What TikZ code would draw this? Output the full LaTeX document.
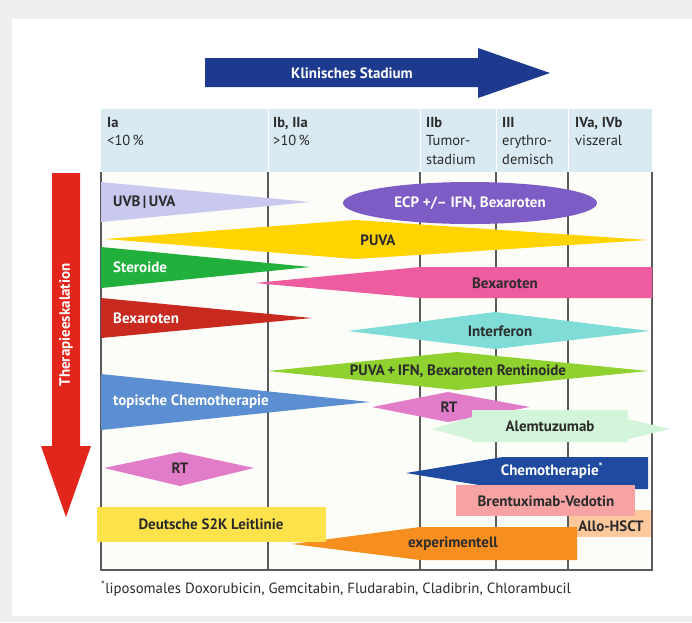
\documentclass[tikz,border=0pt]{standalone}
\usepackage{fontspec}
\setmainfont{PT Sans}

\definecolor{outerbg}{HTML}{EFEFEF}
\definecolor{chartbg}{HTML}{FCFCF8}
\definecolor{hdrbg}{HTML}{D9EAF3}
\definecolor{gridc}{HTML}{5A5A5A}
\definecolor{txt}{HTML}{2B2B2B}
\definecolor{navyarr}{HTML}{1D3A8F}
\definecolor{redarr}{HTML}{E2261C}
\definecolor{uvbc}{HTML}{C9C8EF}
\definecolor{puvac}{HTML}{FFD400}
\definecolor{ecpc}{HTML}{7E5CC6}
\definecolor{sterc}{HTML}{22B03C}
\definecolor{bexpc}{HTML}{EE5CA0}
\definecolor{bexrc}{HTML}{C82A20}
\definecolor{ifnc}{HTML}{80DCD6}
\definecolor{puvaifnc}{HTML}{8FD12E}
\definecolor{topcc}{HTML}{5B8FD2}
\definecolor{rtc}{HTML}{E07CC8}
\definecolor{alemc}{HTML}{D2F4D8}
\definecolor{chemoc}{HTML}{1F4AA0}
\definecolor{brentc}{HTML}{F7A3A3}
\definecolor{alloc}{HTML}{FDC99C}
\definecolor{experc}{HTML}{F68F1F}
\definecolor{s2kc}{HTML}{FDE24B}

\begin{document}
\begin{tikzpicture}[x=1pt,y=-1pt,
  lbl/.style={font=\bfseries\fontsize{15}{17}\selectfont,text=txt,inner sep=0pt},
  wlbl/.style={lbl,text=white},
  hd/.style={font=\fontsize{14.5}{18.5}\selectfont,text=txt,align=left,anchor=north west,inner sep=0pt},
  gridline/.style={draw=gridc,line width=1.3pt}]

\useasboundingbox (0,0) rectangle (692,622);
\fill[outerbg] (0,0) rectangle (692,622);
\fill[white] (12,19) rectangle (692,616);

% Klinisches Stadium
\fill[navyarr] (205,58) -- (478,58) -- (478,48) -- (550,73) -- (478,98) -- (478,87) -- (205,87) -- cycle;
\node[wlbl] (stadium) at (352,73) {Klinisches Stadium};

% Therapieeskalation
\fill[redarr] (52,173) -- (80,173) -- (80,446) -- (91,446) -- (66,517) -- (41,446) -- (52,446) -- cycle;
\node[wlbl,rotate=90] (eskal) at (66,325) {Therapieeskalation};

% header and grid
\fill[hdrbg] (101,109) rectangle (652,172);
\fill[chartbg] (101,172) rectangle (652,570);
\foreach \x in {268,420,496,568}{% white gaps between header cells
    \draw[white,line width=1pt] (\x,109) -- (\x,172);}
\foreach \x in {101,268,420,496,568,652}{% column lines
    \draw[gridline] (\x,172) -- (\x,570);}
\draw[gridline] (100.35,570) -- (652.65,570);

\node[hd] (ia) at (107,117) {\textbf{Ia}\\<10\,\%};
\node[hd] (ib) at (273,117) {\textbf{Ib, IIa}\\>10\,\%};
\node[hd] (iib) at (426,117) {\textbf{IIb}\\Tumor-\\stadium};
\node[hd] (iii) at (502,117) {\textbf{III}\\erythro-\\demisch};
\node[hd] (iv) at (575,117) {\textbf{IVa, IVb}\\viszeral};

% UVB/UVA, PUVA, ECP
\fill[uvbc] (101,182) -- (310,202) -- (101,222) -- cycle;
\node[lbl,anchor=west] (uvb) at (113,202) {UVB\,|\,UVA};
\fill[puvac] (105,239) -- (355,220) -- (648,240) -- (355,259) -- cycle;
\node[lbl] (puva) at (378,240) {PUVA};
\fill[ecpc] (470,203) ellipse [x radius=127, y radius=21];
\node[wlbl] (ecp) at (470,203) {ECP +/– IFN, Bexaroten};

% Steroide, Bexaroten
\fill[sterc] (101,247) -- (310,267) -- (101,288) -- cycle;
\node[wlbl,anchor=west] (ster) at (113,267) {Steroide};
\fill[bexpc] (255,283) -- (420,267) -- (652,267) -- (652,298) -- (420,298) -- cycle;
\node[lbl] (bexp) at (505,283) {Bexaroten};
\fill[bexrc] (101,298) -- (312,318) -- (101,338) -- cycle;
\node[wlbl,anchor=west] (bexr) at (113,318) {Bexaroten};

% Interferon, PUVA + IFN
\fill[ifnc] (348,331) -- (495,312) -- (650,331) -- (495,349) -- cycle;
\node[lbl] (ifn) at (500,331) {Interferon};
\fill[puvaifnc] (268,371) -- (457,352) -- (648,371) -- (457,390) -- cycle;
\node[lbl] (puvaifn) at (458,371) {PUVA\,+\,IFN, Bexaroten Rentinoide};

% topische Chemotherapie, RT, Alemtuzumab
\fill[topcc] (101,374) -- (370,402) -- (101,430) -- cycle;
\node[wlbl,anchor=west] (topc) at (113,402) {topische Chemotherapie};
\fill[rtc] (372,407) -- (448,392) -- (530,407) -- (448,422) -- cycle;
\node[lbl] (rtb) at (449,407) {RT};
\fill[alemc] (432,429) -- (472,417) -- (472,410) -- (628,410) -- (628,419) -- (670,429)
    -- (628,439) -- (628,442) -- (472,442) -- (472,440) -- cycle;
\node[lbl] (alem) at (550,426) {Alemtuzumab};

% RT, Chemotherapie
\fill[rtc] (104,468) -- (180,452) -- (254,468) -- (180,486) -- cycle;
\node[lbl] (rta) at (180,468) {RT};
\fill[chemoc] (406,473) -- (503,457) -- (648,457) -- (648,489) -- (503,489) -- cycle;
\node[wlbl] (chemo) at (552,471) {Chemotherapie\textsuperscript{*}};

% Allo-HSCT, Brentuximab, experimentell, S2K
\fill[alloc] (569,510) rectangle (651,537);
\node[lbl] (allo) at (611,526) {Allo-HSCT};
\fill[brentc] (456,485) rectangle (635,516);
\node[lbl] (brent) at (546,501) {Brentuximab-Vedotin};
\fill[experc] (292,544) -- (420,527) -- (577,527) -- (577,560) -- (420,560) -- cycle;
\node[lbl] (exper) at (453,544) {experimentell};
\fill[s2kc] (97,507) rectangle (326,542);
\node[lbl] (s2k) at (211,524) {Deutsche S2K Leitlinie};

\node[anchor=west,inner sep=0pt,font=\fontsize{14.8}{16}\selectfont,text=txt] (fn) at (101,589)
    {\textsuperscript{*}liposomales Doxorubicin, Gemcitabin, Fludarabin, Cladibrin, Chlorambucil};

\end{tikzpicture}
\end{document}
